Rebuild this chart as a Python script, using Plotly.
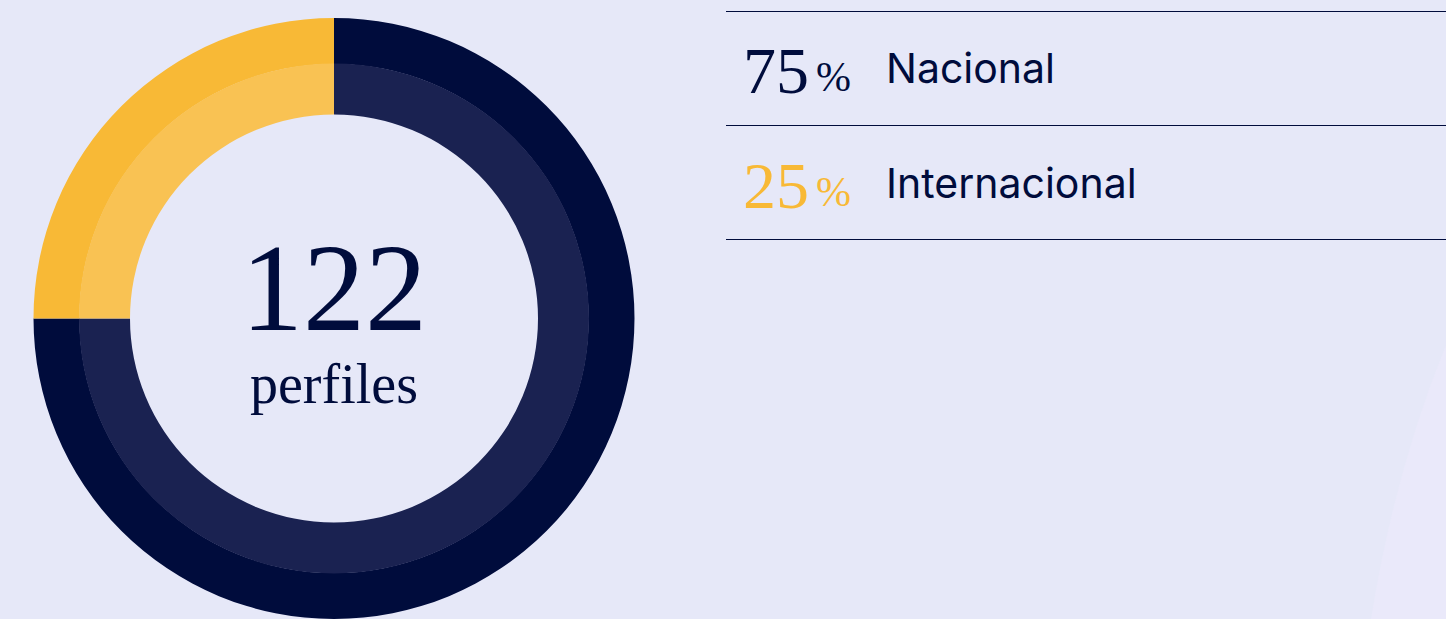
import plotly.graph_objects as go

# Data
categories = ["Nacional", "Internacional"]
values = [75, 25]
total_label = "122"
total_sub = "perfiles"

W, H = 1446, 619
BG = "#e6e8f8"
NAVY = "#000c3c"
YELLOW = "#f8b936"
NAVY_IN = "#1a2251"
YELLOW_IN = "#f9c253"

def px(x):
    return x / W

def py(y):
    return max(0.0, min(1.0, 1 - y / H))

fig = go.Figure()

# outer ring
fig.add_trace(go.Pie(
    labels=categories, values=values, sort=False, direction="clockwise", rotation=0,
    hole=255 / 301, marker=dict(colors=[NAVY, YELLOW], line=dict(width=0)),
    textinfo="none", hoverinfo="label+percent", showlegend=False,
    domain=dict(x=[px(33), px(635)], y=[0, py(18)]),
))
# inner ring (lighter)
fig.add_trace(go.Pie(
    labels=categories, values=values, sort=False, direction="clockwise", rotation=0,
    hole=204 / 255, marker=dict(colors=[NAVY_IN, YELLOW_IN], line=dict(width=0)),
    textinfo="none", hoverinfo="label+percent", showlegend=False,
    domain=dict(x=[px(79), px(589)], y=[py(573.5), py(63.5)]),
))

shapes = []
annotations = []

# background decoration arc at bottom right
shapes.append(dict(
    type="path", xref="paper", yref="paper", layer="below",
    path=f"M {px(1446)},{py(345)} Q {px(1395)},{py(470)} {px(1371)},{py(619)} L {px(1446)},{py(619)} Z",
    fillcolor="#eae9fa", line=dict(width=0),
))

# center texts
annotations.append(dict(
    text=total_label, x=px(334), y=py(288), xref="paper", yref="paper",
    showarrow=False, xanchor="center", yanchor="middle",
    font=dict(family="Liberation Serif", size=124, color=NAVY),
))
annotations.append(dict(
    text=total_sub, x=px(334), y=py(384), xref="paper", yref="paper",
    showarrow=False, xanchor="center", yanchor="middle",
    font=dict(family="Liberation Serif", size=56, color=NAVY),
))

# legend table lines
for yl in [11.5, 125.5, 239.5]:
    shapes.append(dict(
        type="line", xref="paper", yref="paper",
        x0=px(726), x1=1, y0=py(yl), y1=py(yl),
        line=dict(color=NAVY, width=1),
    ))

row_centers = [68, 183]
pct_colors = [NAVY, YELLOW]
for cat, val, yc, col in zip(categories, values, row_centers, pct_colors):
    annotations.append(dict(
        text=f"{val}", x=px(741), y=py(yc + 2), xref="paper", yref="paper",
        showarrow=False, xanchor="left", yanchor="middle",
        font=dict(family="Liberation Serif", size=66, color=col),
    ))
    annotations.append(dict(
        text="%", x=px(814), y=py(yc + 9), xref="paper", yref="paper",
        showarrow=False, xanchor="left", yanchor="middle",
        font=dict(family="Liberation Serif", size=42, color=col),
    ))
    annotations.append(dict(
        text=cat, x=px(884), y=py(yc), xref="paper", yref="paper",
        showarrow=False, xanchor="left", yanchor="middle",
        font=dict(family="Inter", size=41, color=NAVY),
    ))

fig.update_layout(
    width=W, height=H,
    margin=dict(l=0, r=0, t=0, b=0),
    paper_bgcolor=BG, plot_bgcolor=BG,
    shapes=shapes, annotations=annotations,
    showlegend=False,
)

fig.write_html(
    "out.html",
    config={"displayModeBar": False},
    post_script="document.body.style.margin='0';document.body.style.background='#e6e8f8';",
)
